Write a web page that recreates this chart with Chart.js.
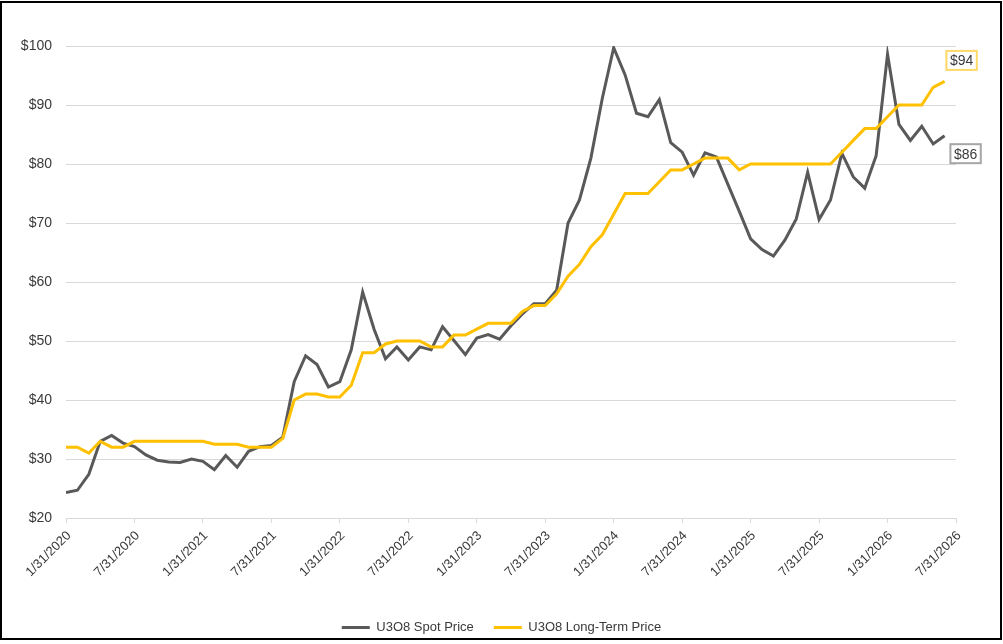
<!DOCTYPE html>
<html>
<head>
<meta charset="utf-8">
<script src="https://cdn.jsdelivr.net/npm/chart.js"></script>
<style>
  html, body { margin: 0; padding: 0; background: #fff; }
  .wrap { position: relative; width: 1003px; height: 644px; }
  .frame {
    position: absolute; left: 0; top: 1px; width: 1002px; height: 639px;
    box-sizing: border-box; border: 2px solid #000; pointer-events: none;
  }
</style>
</head>
<body>
<div class="wrap">
  <canvas id="chart"></canvas>
  <div class="frame"></div>
</div>
<script>
// monthly values, index 0 = 1/31/2020
const spotPrice = [
  24.3, 24.7, 27.4, 33.0, 34.0, 32.7, 32.1, 30.7, 29.8, 29.5, 29.4, 30.0,
  29.6, 28.2, 30.6, 28.6, 31.3, 32.1, 32.3, 33.7, 43.1, 47.5, 46.0, 42.2,
  43.1, 48.5, 58.3, 52.0, 47.0, 49.0, 46.8, 49.0, 48.5, 52.4, 50.1, 47.7,
  50.5, 51.1, 50.3, 52.6, 54.6, 56.3, 56.3, 58.6, 70.0, 73.9, 81.0, 91.1,
  99.7, 95.1, 88.6, 88.0, 90.9, 83.6, 82.0, 78.1, 81.9, 81.2, 76.6, 72.0,
  67.3, 65.5, 64.4, 67.1, 70.7, 78.6, 70.6, 73.9, 81.8, 77.8, 75.9, 81.4,
  98.6, 86.7, 84.0, 86.4, 83.4, 84.8
];
const longTermPrice = [
  32, 32, 31, 33, 32, 32, 33, 33, 33, 33, 33, 33,
  33, 32.5, 32.5, 32.5, 32, 32, 32, 33.5, 40, 41, 41, 40.5,
  40.5, 42.5, 48, 48, 49.5, 50, 50, 50, 49, 49, 51, 51,
  52, 53, 53, 53, 55, 56, 56, 58, 61, 63, 66, 68,
  71.5, 75, 75, 75, 77, 79, 79, 80, 81, 81, 81, 79,
  80, 80, 80, 80, 80, 80, 80, 80, 82, 84, 86, 86,
  88, 90, 90, 90, 93, 94
];
const seriesNames = ['U3O8 Spot Price', 'U3O8 Long-Term Price'];
const endLabels = ['$86', '$94'];
const tickLabels = [
  '1/31/2020', '7/31/2020', '1/31/2021', '7/31/2021', '1/31/2022', '7/31/2022', '1/31/2023',
  '7/31/2023', '1/31/2024', '7/31/2024', '1/31/2025', '7/31/2025', '1/31/2026', '7/31/2026'
];

const GRAY = '#595959';
const GOLD = '#FFC000';
const TEXT = '#3a3a3a';

// boxed value next to the last point of each line
const endLabelPlugin = {
  id: 'endLabels',
  afterDatasetsDraw(chart) {
    const ctx = chart.ctx;
    const styles = [
      { dx: 21, dy: 18, border: '#A6A6A6' },
      { dx: 17, dy: -21, border: '#FFD966' }
    ];
    chart.data.datasets.forEach((ds, i) => {
      const meta = chart.getDatasetMeta(i);
      const pt = meta.data[meta.data.length - 1];
      if (!pt) return;
      const s = styles[i];
      const cx = pt.x + s.dx, cy = pt.y + s.dy;
      ctx.save();
      ctx.font = '14px "Liberation Sans", Arial, sans-serif';
      const w = ctx.measureText(endLabels[i]).width + 7;
      const h = 19;
      ctx.fillStyle = '#fff';
      ctx.fillRect(cx - w / 2, cy - h / 2, w, h);
      ctx.lineWidth = 2;
      ctx.strokeStyle = s.border;
      ctx.strokeRect(cx - w / 2, cy - h / 2, w, h);
      ctx.fillStyle = TEXT;
      ctx.textAlign = 'center';
      ctx.textBaseline = 'middle';
      ctx.fillText(endLabels[i], cx, cy + 1);
      ctx.restore();
    });
  }
};

Chart.defaults.font.family = '"Liberation Sans", Arial, sans-serif';
Chart.defaults.color = TEXT;

new Chart(document.getElementById('chart'), {
  type: 'line',
  data: {
    datasets: [
      {
        label: seriesNames[0],
        data: spotPrice.map((v, i) => ({ x: i, y: v })),
        borderColor: GRAY,
        backgroundColor: GRAY,
        borderWidth: 3,
        pointRadius: 0,
        tension: 0,
        order: 1
      },
      {
        label: seriesNames[1],
        data: longTermPrice.map((v, i) => ({ x: i, y: v })),
        borderColor: GOLD,
        backgroundColor: GOLD,
        borderWidth: 3,
        pointRadius: 0,
        tension: 0,
        order: 0
      }
    ]
  },
  options: {
    responsive: true,
    maintainAspectRatio: false,
    animation: false,
    layout: { padding: { top: 46, left: 0, right: 0, bottom: 0 } },
    scales: {
      x: {
        type: 'linear',
        min: 0,
        max: 78,
        grid: { drawOnChartArea: false, color: '#D9D9D9', tickLength: 5 },
        border: { color: '#D9D9D9' },
        ticks: {
          stepSize: 6,
          autoSkip: false,
          maxRotation: 45,
          minRotation: 45,
          padding: 5,
          labelOffset: 3,
          font: { size: 13 },
          callback: (v) => tickLabels[v / 6]
        },
        afterFit: (s) => { s.height = 83; }
      },
      y: {
        min: 20,
        max: 100,
        grid: { color: '#D9D9D9', drawTicks: false },
        border: { display: false },
        ticks: {
          stepSize: 10,
          padding: 14,
          font: { size: 14 },
          callback: (v) => '$' + v
        },
        afterFit: (s) => { s.width = 66; }
      },
      yr: {
        position: 'right',
        grid: { display: false },
        border: { display: false },
        ticks: { display: false },
        afterFit: (s) => { s.width = 47; }
      }
    },
    plugins: {
      legend: {
        position: 'bottom',
        labels: {
          boxWidth: 28,
          boxHeight: 3,
          padding: 20,
          font: { size: 13 },
          color: TEXT,
          sort: (a, b) => a.datasetIndex - b.datasetIndex,
          generateLabels: (chart) =>
            Chart.defaults.plugins.legend.labels.generateLabels(chart).map(l => ({ ...l, lineWidth: 0 }))
        }
      },
      tooltip: { enabled: false }
    }
  },
  plugins: [endLabelPlugin]
});
</script>
</body>
</html>
